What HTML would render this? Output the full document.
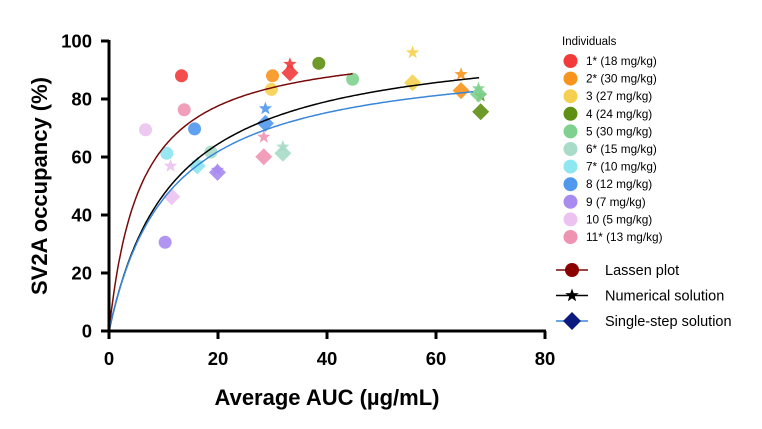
<!DOCTYPE html>
<html><head><meta charset="utf-8"><style>
body{margin:0;background:#fff;}
svg{display:block;font-family:"Liberation Sans",Arial,sans-serif;}
</style></head><body>
<svg id="chart" width="762" height="429"></svg>
<script>
const subjects = ["1* (18 mg/kg)","2* (30 mg/kg)","3 (27 mg/kg)","4 (24 mg/kg)","5 (30 mg/kg)","6* (15 mg/kg)","7* (10 mg/kg)","8 (12 mg/kg)","9 (7 mg/kg)","10 (5 mg/kg)","11* (13 mg/kg)"];
const colors = ["#f23a3a","#f7941d","#f5d050","#5e8f12","#7fd18f","#a9dcc8","#8ee6f0","#4f98ee","#a98bf0","#ebc2f0","#ee93b2"];
const circleX = [13.3,30.0,29.8,38.5,44.7,18.7,10.6,15.7,10.3,6.7,13.8];
const circleY = [88.0,88.0,83.3,92.3,86.8,61.7,61.3,69.7,30.6,69.4,76.3];
const starX = [33.2,64.6,55.7,68.2,67.8,31.9,16.2,28.7,19.9,11.3,28.4];
const starY = [92.0,88.5,96.0,81.1,83.6,63.5,58.0,76.7,55.5,56.9,66.9];
const diamondX = [33.2,64.6,55.7,68.2,67.8,31.9,16.2,28.7,19.9,11.5,28.4];
const diamondY = [89.0,82.9,85.6,75.6,81.7,61.3,56.9,71.6,54.7,46.3,60.1];
const xTicks = [0,20,40,60,80];
const yTicks = [0,20,40,60,80,100];
const lassenEmax = 100.3, lassenEC50 = 5.85, lassenXmax = 44.7;
const numEmax = 102.5, numEC50 = 11.8, numXmax = 67.9;
const singleEmax = 96.2, singleEC50 = 11.1, singleXmax = 66.8;

const NS="http://www.w3.org/2000/svg";
const svg=document.getElementById('chart');
const X=v=>109+v*5.45, Y=v=>331-v*2.9;
function mk(t,a,p){const e=document.createElementNS(NS,t);for(const k in a)e.setAttribute(k,a[k]);(p||svg).appendChild(e);return e;}
function starPts(cx,cy,R){let p=[];for(let i=0;i<10;i++){const r=i%2?R*0.42:R;const a=-Math.PI/2+i*Math.PI/5;p.push((cx+r*Math.cos(a)).toFixed(1)+','+(cy+r*Math.sin(a)).toFixed(1));}return p.join(' ');}
function curve(Em,EC,xm,col,name){let d='';for(let i=0;i<=200;i++){const x=xm*i/200;const y=Em*x/(EC+x);d+=(i?'L':'M')+X(x).toFixed(1)+' '+Y(y).toFixed(1);}
 const e=mk('path',{d:d,fill:'none',stroke:col,'stroke-width':1.5});
 
 }

const g=mk('g',{});


for(let i=0;i<subjects.length;i++){
 const c=mk('circle',{cx:X(circleX[i]),cy:Y(circleY[i]),r:6.5,fill:colors[i],opacity:0.9},g);
 
 
 const s=mk('polygon',{points:starPts(X(starX[i]),Y(starY[i]),7),fill:colors[i],opacity:0.9},g);
 
 
 const cx=X(diamondX[i]),cy=Y(diamondY[i]),r=8.5;
 const d=mk('polygon',{points:`${cx},${cy-r} ${cx+r},${cy} ${cx},${cy+r} ${cx-r},${cy}`,fill:colors[i],opacity:0.9},g);
 
 
}
curve(lassenEmax,lassenEC50,lassenXmax,'#7a0a0a','lassen-curve');
curve(numEmax,numEC50,numXmax,'#000','numerical-curve');
curve(singleEmax,singleEC50,singleXmax,'#3a86d8','single-step-curve');

let ax=mk('line',{x1:109,y1:Y(100)-1,x2:109,y2:332.5,stroke:'#000','stroke-width':3});

ax=mk('line',{x1:107.5,y1:331,x2:X(80)+1,y2:331,stroke:'#000','stroke-width':3});

yTicks.forEach(v=>{
 mk('line',{x1:101,y1:Y(v),x2:109,y2:Y(v),stroke:'#000','stroke-width':3});
 const t=mk('text',{x:92,y:Y(v)+6.5,'text-anchor':'end','font-size':18.5,'font-weight':'bold'});
 t.textContent=v;
 
 
});
xTicks.forEach(v=>{
 mk('line',{x1:X(v),y1:331,x2:X(v),y2:339,stroke:'#000','stroke-width':3});
 const t=mk('text',{x:X(v),y:365,'text-anchor':'middle','font-size':18.5,'font-weight':'bold'});
 t.textContent=v;
 
 
});
let t=mk('text',{x:327,y:405,'text-anchor':'middle','font-size':22,'font-weight':'bold'});
t.textContent='Average AUC (µg/mL)';

t=mk('text',{x:0,y:0,'text-anchor':'middle','font-size':22,'font-weight':'bold',transform:'translate(47,186) rotate(-90)'});
t.textContent='SV2A occupancy (%)';


t=mk('text',{x:562,y:45,'font-size':11.5});
t.textContent='Individuals';

subjects.forEach((s,i)=>{
 const y=61+i*17.6;
 const c=mk('circle',{cx:570.5,cy:y,r:7,fill:colors[i]});
 
 const tt=mk('text',{x:586,y:y+4,'font-size':11.8});
 tt.textContent=s;
 
});
const methods=[['Lassen plot','#7a0a0a','circle','#8b0000'],['Numerical solution','#000','star','#000'],['Single-step solution','#3a86d8','diamond','#0a1a80']];
methods.forEach((m,i)=>{
 const y=270+i*25.5;
 mk('line',{x1:556,y1:y,x2:588,y2:y,stroke:m[1],'stroke-width':1.5});
 if(m[2]=='circle')mk('circle',{cx:572,cy:y,r:7,fill:m[3]});
 else if(m[2]=='star')mk('polygon',{points:starPts(572,y,7),fill:m[3]});
 else mk('polygon',{points:`572,${y-9} 581,${y} 572,${y+9} 563,${y}`,fill:m[3]});
 const tt=mk('text',{x:605,y:y+5,'font-size':14.5});
 tt.textContent=m[0];
 
});
</script>
</body></html>
